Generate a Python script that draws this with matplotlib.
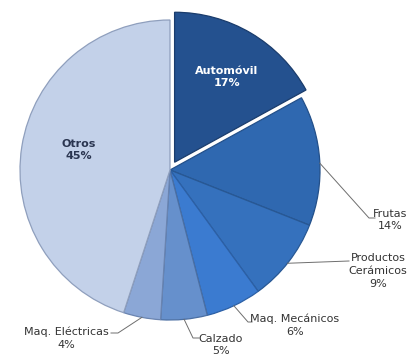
import matplotlib
matplotlib.use("Agg")
import matplotlib.pyplot as plt
import numpy as np

categories = ["Automóvil", "Frutas", "Productos\nCerámicos", "Maq. Mecánicos", "Calzado", "Maq. Eléctricas", "Otros"]
values = [17, 14, 9, 6, 5, 4, 45]
colors = ["#24518f", "#2f68b0", "#3571bd", "#3b7bd0", "#6690cc", "#8ba7d6", "#c3d1e9"]
edge_colors = ["#1a3c6c", "#23508a", "#285894", "#2c60a6", "#4b6fa3", "#6a84b0", "#8f9fbd"]

fig = plt.figure(figsize=(4.11, 3.56), dpi=100)
ax = fig.add_axes([0, 0, 1, 1])

cx, cy, R = 170, 186, 150
explode = [9, 0, 0, 0, 0, 0, 0]
wedges, _ = ax.pie(values, colors=colors, startangle=90, counterclock=False,
                   center=(cx, cy), radius=R, explode=explode, frame=True,
                   wedgeprops=dict(linewidth=0.9))
for w, ec in zip(wedges, edge_colors):
    w.set_edgecolor(ec)
ax.set_xlim(0, 411)
ax.set_ylim(0, 356)
ax.set_aspect("equal")
ax.axis("off")

fs = 8
txtc = "#333333"
# inside labels
ax.text(227, 356 - 77, f"{categories[0]}\n{values[0]}%", ha="center", va="center",
        color="white", fontsize=fs, fontweight="bold", linespacing=1.35)
ax.text(79, 356 - 150, f"{categories[6]}\n{values[6]}%", ha="center", va="center",
        color="#2a3550", fontsize=fs, fontweight="bold", linespacing=1.35)

def edge_point(i, frac=0.5):
    w = wedges[i]
    ang = np.deg2rad(w.theta1 + (w.theta2 - w.theta1) * frac)
    return cx + R * np.cos(ang), cy + R * np.sin(ang)

# outside labels: (index, text pos, line bend points, fraction along wedge)
outs = [
    (1, (390, 356 - 220), [(369, 356 - 218), (375, 356 - 218)], 0.48),
    (2, (378, 356 - 271), [(349, 356 - 261)], 0.48),
    (3, (295, 356 - 325), [(248, 356 - 322), (252, 356 - 322)], 0.5),
    (4, (221, 356 - 345), [(193, 356 - 338), (199, 356 - 338)], 0.5),
    (5, (66, 356 - 338), [(118, 356 - 333), (111, 356 - 333)], 0.5),
]
for i, tpos, pts, frac in outs:
    x0, y0 = edge_point(i, frac)
    xs = [x0] + [p[0] for p in pts]
    ys = [y0] + [p[1] for p in pts]
    ax.plot(xs, ys, color="#6e6e6e", lw=0.7)
    ax.text(tpos[0], tpos[1], f"{categories[i]}\n{values[i]}%", ha="center", va="center",
            color=txtc, fontsize=fs, linespacing=1.35)

fig.savefig("out.png", dpi=100)
